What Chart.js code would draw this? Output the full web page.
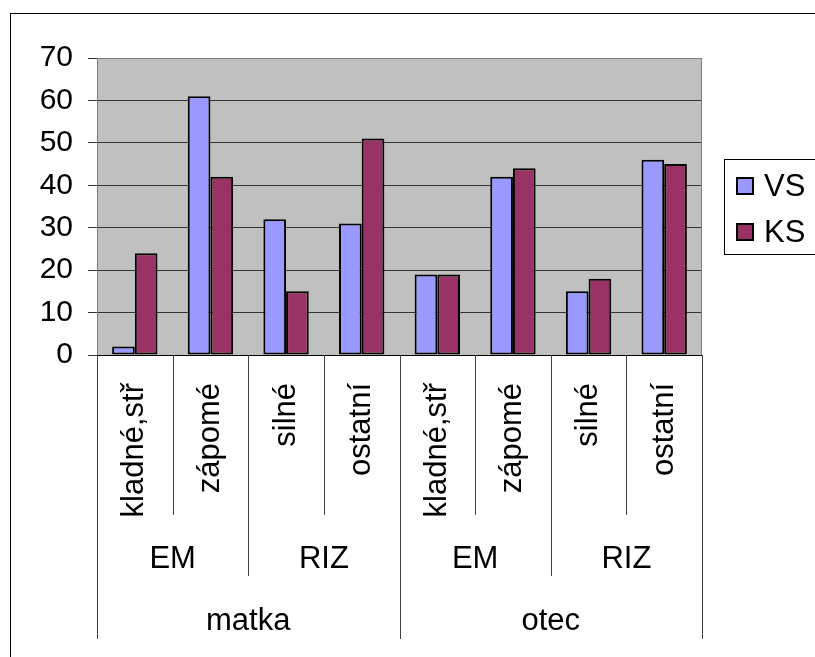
<!DOCTYPE html>
<html>
<head>
<meta charset="utf-8">
<script src="https://cdn.jsdelivr.net/npm/chart.js@4"></script>
<style>
html,body{margin:0;padding:0;background:#fff;}
canvas{display:block;}
</style>
</head>
<body>
<canvas id="c" width="815" height="657"></canvas>
<script>
// ---- data ----
const categories = ['kladné,stř', 'zápomé', 'silné', 'ostatní', 'kladné,stř', 'zápomé', 'silné', 'ostatní'];
const groupLabels = ['EM', 'RIZ', 'EM', 'RIZ'];     // each spans 2 categories
const parentLabels = ['matka', 'otec'];             // each spans 4 categories
const seriesNames = ['VS', 'KS'];
const vsValues = [2, 61, 32, 31, 19, 42, 15, 46];
const ksValues = [24, 42, 15, 51, 19, 44, 18, 45];
const yTicks = [0, 10, 20, 30, 40, 50, 60, 70];
const seriesColors = ['#9999FF', '#993366'];

const FONT = '"Liberation Sans", Arial, sans-serif';

const decor = {
  id: 'decor',
  beforeDraw(chart) {
    const {ctx, chartArea: a} = chart;
    ctx.save();
    ctx.fillStyle = '#fff';
    ctx.fillRect(0, 0, chart.width, chart.height);
    ctx.strokeStyle = '#000';
    ctx.lineWidth = 1;
    ctx.strokeRect(10.5, 13.5, 1000, 1000);
    ctx.fillStyle = '#C0C0C0';
    ctx.fillRect(a.left, a.top, a.right - a.left, a.bottom - a.top);
    ctx.restore();
  },
  afterDraw(chart) {
    const {ctx, chartArea: a} = chart;
    const xs = chart.scales.x;
    const n = categories.length;
    const half = (xs.getPixelForValue(1) - xs.getPixelForValue(0)) / 2;
    const bx = i => (i < n ? xs.getPixelForValue(i) - half : xs.getPixelForValue(n - 1) + half);
    ctx.save();
    ctx.strokeStyle = '#808080';
    ctx.lineWidth = 1;
    ctx.beginPath();
    ctx.moveTo(a.left, a.top + 0.5); ctx.lineTo(a.right - 0.5, a.top + 0.5); ctx.lineTo(a.right - 0.5, a.bottom);
    ctx.stroke();
    ctx.strokeStyle = '#404040';
    for (let i = 0; i <= n; i++) {
      let y2 = 515;
      if (i % 4 === 0) y2 = 639; else if (i % 2 === 0) y2 = 576;
      const x = Math.round(bx(i)) + 0.5;
      ctx.beginPath(); ctx.moveTo(x, a.bottom); ctx.lineTo(x, y2); ctx.stroke();
    }
    ctx.fillStyle = '#000';
    ctx.font = '31px ' + FONT;
    ctx.textAlign = 'center';
    ctx.textBaseline = 'alphabetic';
    groupLabels.forEach((g, k) => {
      const cx = (bx(k * 2) + bx(k * 2 + 2)) / 2;
      ctx.fillText(g, cx, 568);
    });
    parentLabels.forEach((p, k) => {
      const cx = (bx(k * 4) + bx(k * 4 + 4)) / 2;
      ctx.fillText(p, cx, 630);
    });
    ctx.strokeStyle = '#000';
    ctx.lineWidth = 1;
    ctx.strokeRect(724.5, 159.5, 200, 95);
    ctx.textAlign = 'left';
    chart.data.datasets.forEach((ds, k) => {
      const cy = 186 + k * 46;
      ctx.fillStyle = ds.backgroundColor;
      ctx.fillRect(736, cy - 9, 18, 18);
      ctx.lineWidth = 2;
      ctx.strokeRect(737, cy - 8, 16, 16);
      ctx.fillStyle = '#000';
      ctx.font = '31px ' + FONT;
      ctx.textBaseline = 'middle';
      ctx.fillText(ds.label, 764, cy + 1);
    });
    ctx.restore();
  }
};

new Chart(document.getElementById('c'), {
  type: 'bar',
  data: {
    labels: categories,
    datasets: [
      {label: seriesNames[0], data: vsValues, backgroundColor: seriesColors[0], borderColor: '#000', borderWidth: 2, borderSkipped: false},
      {label: seriesNames[1], data: ksValues, backgroundColor: seriesColors[1], borderColor: '#000', borderWidth: 2, borderSkipped: false}
    ]
  },
  options: {
    responsive: false,
    animation: false,
    devicePixelRatio: 1,
    layout: {padding: {left: 0, top: 58, right: 113, bottom: 0}},
    datasets: {bar: {categoryPercentage: 0.6, barPercentage: 1.0}},
    plugins: {legend: {display: false}, tooltip: {enabled: false}},
    scales: {
      x: {
        grid: {display: false},
        border: {display: true, color: '#000', width: 1},
        ticks: {color: '#000', font: {family: FONT, size: 31}, minRotation: 90, maxRotation: 90, padding: 20, autoSkip: false},
        afterFit(s) { s.height = 302; }
      },
      y: {
        min: 0, max: 70,
        afterBuildTicks(s) { s.ticks = yTicks.map(v => ({value: v})); },
        grid: {color: '#333', lineWidth: 1, tickLength: 9, drawTicks: true},
        border: {display: true, color: '#808080', width: 1},
        ticks: {color: '#000', font: {family: FONT, size: 30}, padding: 15},
        afterFit(s) { s.width = 97; }
      }
    }
  },
  plugins: [decor]
});
</script>
</body>
</html>
